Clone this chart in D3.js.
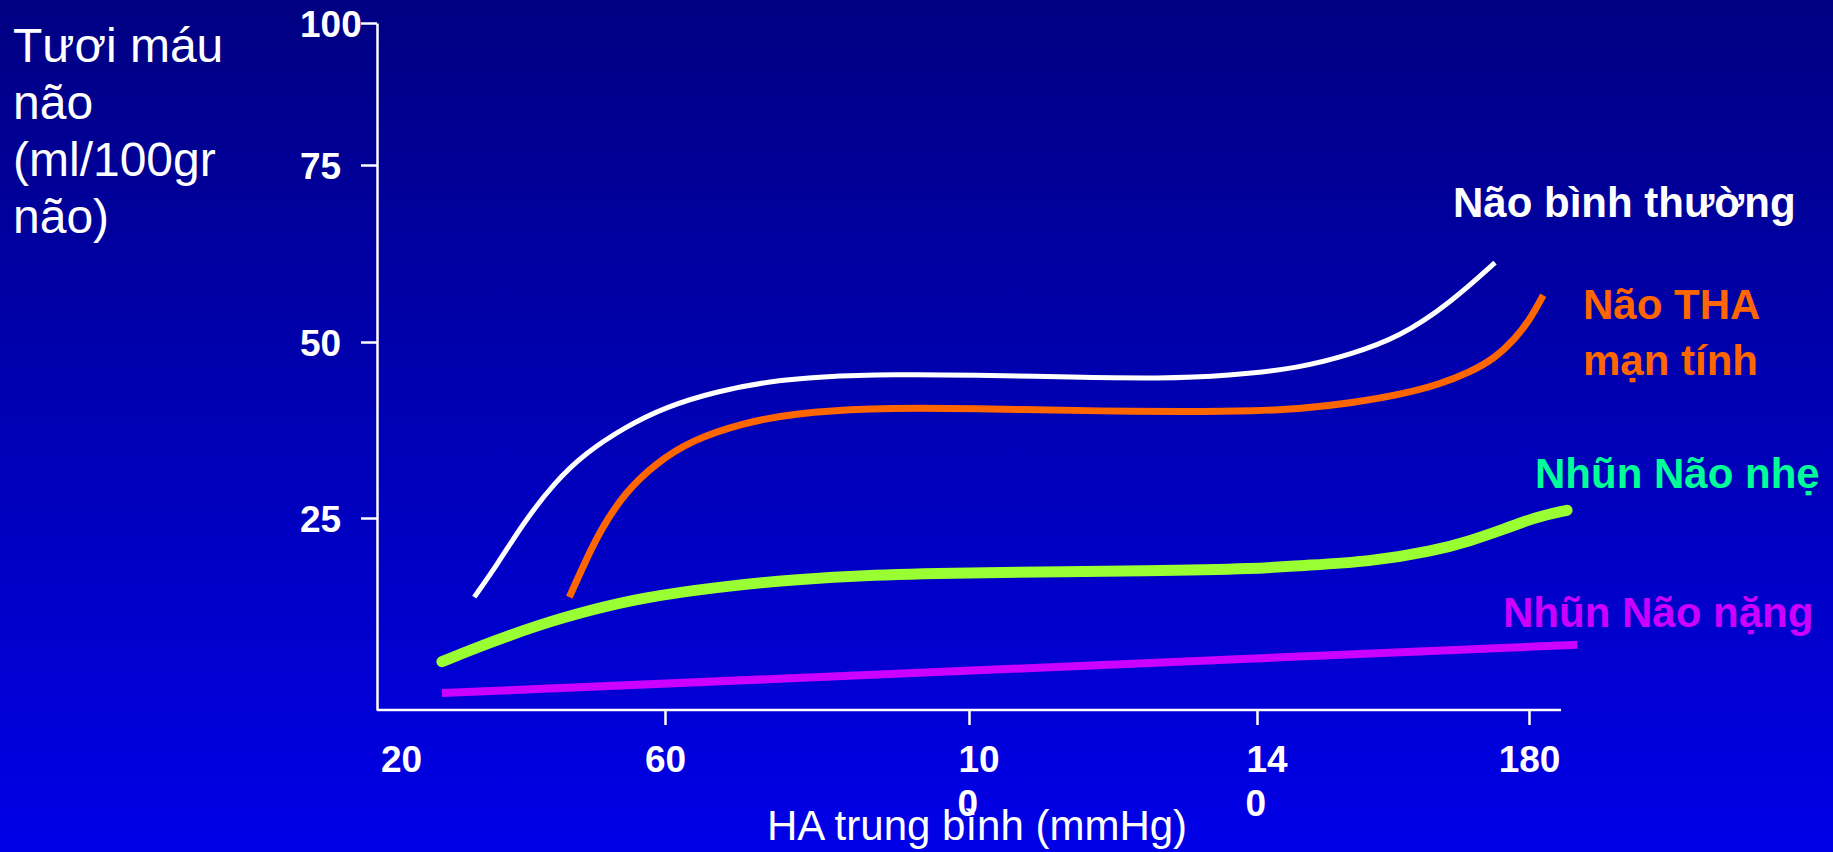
<!DOCTYPE html>
<html lang="vi">
<head>
<meta charset="UTF-8">
<title>Tưới máu não theo HA trung bình</title>
<script src="https://d3js.org/d3.v7.min.js"></script>
<style>
    body, html {
        margin: 0;
        padding: 0;
        overflow: hidden;
        background: #000082;
    }
    svg {
        display: block;
        font-family: "Liberation Sans", Arial, sans-serif;
    }
</style>
</head>
<body>
<div id="chart"></div>
<script>
// ---- data ----
const xTicks = [20, 60, 100, 140, 180];
const yTicks = [25, 50, 75, 100];
const wrappedTicks = [100, 140];   // these labels wrap onto two lines in the original

// [HA trung bình, tưới máu não]
const normalBrain = [
    [31.1, 14.7], [34.7, 19.1], [38.5, 24.3], [43.2, 30.0], [47.9, 34.2],
    [53.9, 37.9], [60.1, 40.8], [66.8, 43.0], [73.6, 44.4], [80.3, 45.1],
    [90.4, 45.4], [100.4, 45.3], [114.6, 45.0], [126.5, 44.8], [136.0, 45.2],
    [146.3, 46.3], [153.7, 48.2], [161.0, 50.7], [168.4, 55.5], [175.0, 61.2]
];
const chronicHTN = [
    [45.5, 14.7], [47.8, 19.1], [50.2, 23.4], [53.9, 28.6], [58.6, 32.8],
    [63.6, 36.1], [70.3, 38.5], [77.0, 39.9], [87.0, 40.6], [97.1, 40.6],
    [107.5, 40.4], [118.2, 40.2], [130.0, 40.1], [140.0, 40.2], [146.3, 40.5],
    [153.7, 41.3], [161.0, 42.5], [166.9, 44.0], [171.3, 45.7], [175.0, 47.7],
    [177.9, 50.4], [180.1, 53.1], [182.1, 56.6]
];
const mildInfarct = [
    [26.2, 6.3], [33.2, 8.7], [40.9, 11.1], [48.6, 13.0], [56.4, 14.6],
    [66.8, 16.0], [77.0, 17.0], [87.0, 17.6], [100.4, 17.9], [126.5, 18.1],
    [140.0, 18.4], [146.3, 18.8], [156.6, 19.3], [165.9, 20.7], [171.3, 22.0],
    [176.5, 23.6], [180.9, 25.1], [185.6, 26.1]
];
const severeInfarct = [[26.2, 2.2], [187.1, 8.5]];

const seriesNames = ["Não bình thường", "Não THA mạn tính", "Nhũn Não nhẹ", "Nhũn Não nặng"];
const yTitleLines = ["Tươi máu", "não", "(ml/100gr", "não)"];
const xTitle = "HA trung bình (mmHg)";

// ---- layout ----
const width = 1833, height = 852;
const plotLeft = 377, plotRight = 1561;

const svg = d3.select("#chart").append("svg")
    .attr("width", width)
    .attr("height", height);

const grad = svg.append("defs").append("linearGradient")
    .attr("id", "bg")
    .attr("x1", 0).attr("y1", 0).attr("x2", 0).attr("y2", 1);
grad.append("stop").attr("offset", "0%").attr("stop-color", "#000082");
grad.append("stop").attr("offset", "100%").attr("stop-color", "#0000e8");

svg.append("rect")
    .attr("width", width)
    .attr("height", height)
    .attr("fill", "url(#bg)");

// the hand drawn axes are not evenly spaced, so the scales are piecewise
const x = d3.scaleLinear()
    .domain(xTicks)
    .range([401, 665, 969, 1257, 1529]);
const y = d3.scaleLinear()
    .domain([0, 25, 50, 75, 100])
    .range([710, 518, 342, 165, 23]);

// y axis
const yAxis = svg.append("g")
    .attr("transform", `translate(${plotLeft},0)`)
    .call(d3.axisLeft(y).tickValues(yTicks).tickSize(16).tickSizeOuter(0));
yAxis.selectAll("path, line")
    .attr("stroke", "#fff")
    .attr("stroke-width", 2.5);
yAxis.selectAll("text")
    .attr("fill", "#fff")
    .attr("font-size", 37)
    .attr("font-weight", "bold")
    .attr("font-family", "Liberation Sans, Arial, sans-serif")
    .attr("text-anchor", "start")
    .attr("x", -77)
    .attr("dy", null)
    .attr("y", 13);

// x axis
const xAxis = svg.append("g")
    .attr("transform", `translate(0,${y(0)})`)
    .call(d3.axisBottom(x).tickValues(xTicks).tickSize(15).tickSizeOuter(0));
xAxis.select(".domain").remove();
xAxis.selectAll(".tick").filter(d => d === xTicks[0]).select("line").remove();
xAxis.append("line")
    .attr("x1", plotLeft)
    .attr("x2", plotRight)
    .attr("stroke", "#fff")
    .attr("stroke-width", 2.5);
xAxis.selectAll(".tick line")
    .attr("stroke", "#fff")
    .attr("stroke-width", 2.5);
xAxis.selectAll("text")
    .attr("fill", "#fff")
    .attr("font-size", 37)
    .attr("font-weight", "bold")
    .attr("font-family", "Liberation Sans, Arial, sans-serif")
    .attr("dy", null)
    .attr("y", 62)
    .each(function(d) {
        if (!wrappedTicks.includes(d)) return;
        const s = String(d);
        const t = d3.select(this).text("").attr("text-anchor", "start");
        t.append("tspan").attr("x", -11).attr("y", 62).text(s.slice(0, 2));
        t.append("tspan").attr("x", -12).attr("y", 106).text(s.slice(2));
    });

// curves
const line = d3.line()
    .x(d => x(d[0]))
    .y(d => y(d[1]))
    .curve(d3.curveBasis);

const series = [
    { data: severeInfarct, color: "#cc00ff", w: 8, cap: "butt" },
    { data: mildInfarct, color: "#99ff33", w: 11, cap: "round" },
    { data: chronicHTN, color: "#ff6600", w: 7, cap: "butt" },
    { data: normalBrain, color: "#ffffff", w: 5, cap: "butt" }
];

svg.selectAll(".curve")
    .data(series)
    .enter().append("path")
    .attr("class", "curve")
    .attr("d", d => line(d.data))
    .attr("fill", "none")
    .attr("stroke", d => d.color)
    .attr("stroke-width", d => d.w)
    .attr("stroke-linecap", d => d.cap);

// series labels
const labelStyle = sel => sel
    .attr("font-size", 42)
    .attr("font-weight", "bold");

svg.append("text").call(labelStyle)
    .attr("x", 1453).attr("y", 217)
    .attr("fill", "#ffffff")
    .text(seriesNames[0]);

const thaWords = seriesNames[1].split(" ");
const tha = svg.append("text").call(labelStyle).attr("fill", "#ff6600");
tha.append("tspan").attr("x", 1583).attr("y", 319).text(thaWords.slice(0, 2).join(" "));
tha.append("tspan").attr("x", 1583).attr("y", 375).text(thaWords.slice(2).join(" "));

svg.append("text").call(labelStyle)
    .attr("x", 1535).attr("y", 488)
    .attr("fill", "#00ff99")
    .text(seriesNames[2]);

svg.append("text").call(labelStyle)
    .attr("x", 1503).attr("y", 627)
    .attr("fill", "#cc00ff")
    .text(seriesNames[3]);

// axis titles
svg.append("text")
    .attr("fill", "#fff")
    .attr("font-size", 48)
    .selectAll("tspan")
    .data(yTitleLines)
    .enter().append("tspan")
    .attr("x", 13)
    .attr("y", (d, i) => 62 + i * 57)
    .text(d => d);

svg.append("text")
    .attr("x", 977)
    .attr("y", 840)
    .attr("text-anchor", "middle")
    .attr("fill", "#fff")
    .attr("font-size", 42)
    .text(xTitle);
</script>
</body>
</html>
